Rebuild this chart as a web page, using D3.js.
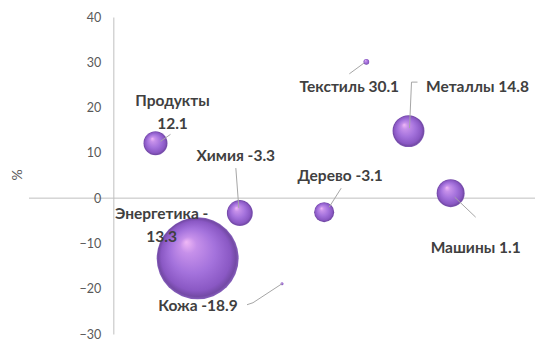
<!DOCTYPE html>
<html><head><meta charset="utf-8">
<script src="https://cdn.jsdelivr.net/npm/d3@7"></script>
<style>
html,body{margin:0;padding:0;background:#fff;}
svg{display:block;}
</style>
</head><body>
<div id="chart"></div>
<script>
const categories = ["Продукты","Химия","Энергетика","Кожа","Текстиль","Металлы","Дерево","Машины"];
const xValues    = [0.5, 1.5, 1.0, 2.0, 3.0, 3.5, 2.5, 4.0];
const yValues    = [12.1, -3.3, -13.3, -18.9, 30.1, 14.8, -3.1, 1.1];
const sizeValues = [8.6, 10, 100, 0.13, 0.5, 15.2, 6, 11.7];
const labelTexts = [["Продукты","12.1"],["Химия -3.3"],["Энергетика -","13.3"],["Кожа -18.9"],["Текстиль 30.1"],["Металлы 14.8"],["Дерево -3.1"],["Машины 1.1"]];
const yTicks = [-30,-20,-10,0,10,20,30,40];

const W = 535, H = 339;
const svg = d3.select("#chart").append("svg").attr("width", W).attr("height", H);

const x = d3.scaleLinear().domain([-1, 5]).range([29, 535]);
const y = d3.scaleLinear().domain([-30, 40]).range([334, 17]);
const r = d3.scaleSqrt().domain([0, 100]).range([0, 41]);

const defs = svg.append("defs");
const g = defs.append("radialGradient").attr("id","sphere")
  .attr("cx","50%").attr("cy","50%").attr("r","50%")
  .attr("fx","36%").attr("fy","30%");
[[0,"#f0b8f6"],[0.2,"#c690ea"],[0.55,"#a472dc"],[0.85,"#8a58c4"],[0.95,"#744aa6"],[1,"#8660bc"]]
  .forEach(([o,c]) => g.append("stop").attr("offset",o).attr("stop-color",c));

// axes lines
svg.append("line").attr("x1", 29).attr("x2", 535).attr("y1", y(0)).attr("y2", y(0))
  .attr("stroke","#bfbfbf").attr("stroke-width",1);
const yAxis = d3.axisLeft(y).tickValues(yTicks).tickSize(0).tickPadding(12);
const ya = svg.append("g").attr("transform", `translate(${x(0)},0)`).call(yAxis);
ya.select(".domain").attr("stroke","#bfbfbf");
ya.selectAll("text").attr("font-family","Lato, 'Open Sans', sans-serif").attr("font-size",12.5).attr("fill","#595959");

svg.append("text").attr("transform",`translate(22,175) rotate(-90)`)
  .attr("text-anchor","middle").attr("font-family","Lato, sans-serif").attr("font-size",14).attr("fill","#595959").text("%");

const data = categories.map((c,i) => ({c, x:xValues[i], y:yValues[i], s:sizeValues[i], lab:labelTexts[i]}));

const leaders = {
  "Продукты":[[15,-9],[5,-2]],
  "Химия":[[-4,-45],[-1,-5]],
  "Кожа":[[-35,21],[-29,19],[0,0]],
  "Текстиль":[[-17,12],[-2,1]],
  "Металлы":[[9,-49],[3,-49],[1,-3]],
  "Дерево":[[17,-24],[5,-5]],
  "Машины":[[25,24],[4,4]]
};
const labelPos = {
  "Продукты":[17,-43],
  "Химия":[-4,-58],
  "Энергетика":[-36,-45],
  "Кожа":[-84,21],
  "Текстиль":[-17,24],
  "Металлы":[69,-45],
  "Дерево":[16,-37],
  "Машины":[25,54]
};

const bub = svg.append("g");
bub.selectAll("circle").data(data).join("circle")
  .attr("cx", d => x(d.x)).attr("cy", d => y(d.y)).attr("r", d => Math.max(1.5, r(d.s)))
  .attr("fill","url(#sphere)");

const lg = svg.append("g");
data.forEach(d => {
  const L = leaders[d.c];
  if (!L) return;
  const cx = x(d.x), cy = y(d.y);
  lg.append("path").attr("d", d3.line()(L.map(p => [cx+p[0], cy+p[1]])))
    .attr("fill","none").attr("stroke","#a6a6a6").attr("stroke-width",1);
});

const tg = svg.append("g");
data.forEach(d => {
  const cx = x(d.x), cy = y(d.y);
  const [dx, dy] = labelPos[d.c];
  d.lab.forEach((t,i) => {
    tg.append("text").attr("x", cx+dx).attr("y", cy+dy+i*23)
      .attr("text-anchor","middle").attr("dominant-baseline","central")
      .attr("font-family","Lato, sans-serif").attr("font-weight","bold").attr("font-size",15.5)
      .attr("fill","#404040").text(t);
  });
});
</script>
</body></html>
